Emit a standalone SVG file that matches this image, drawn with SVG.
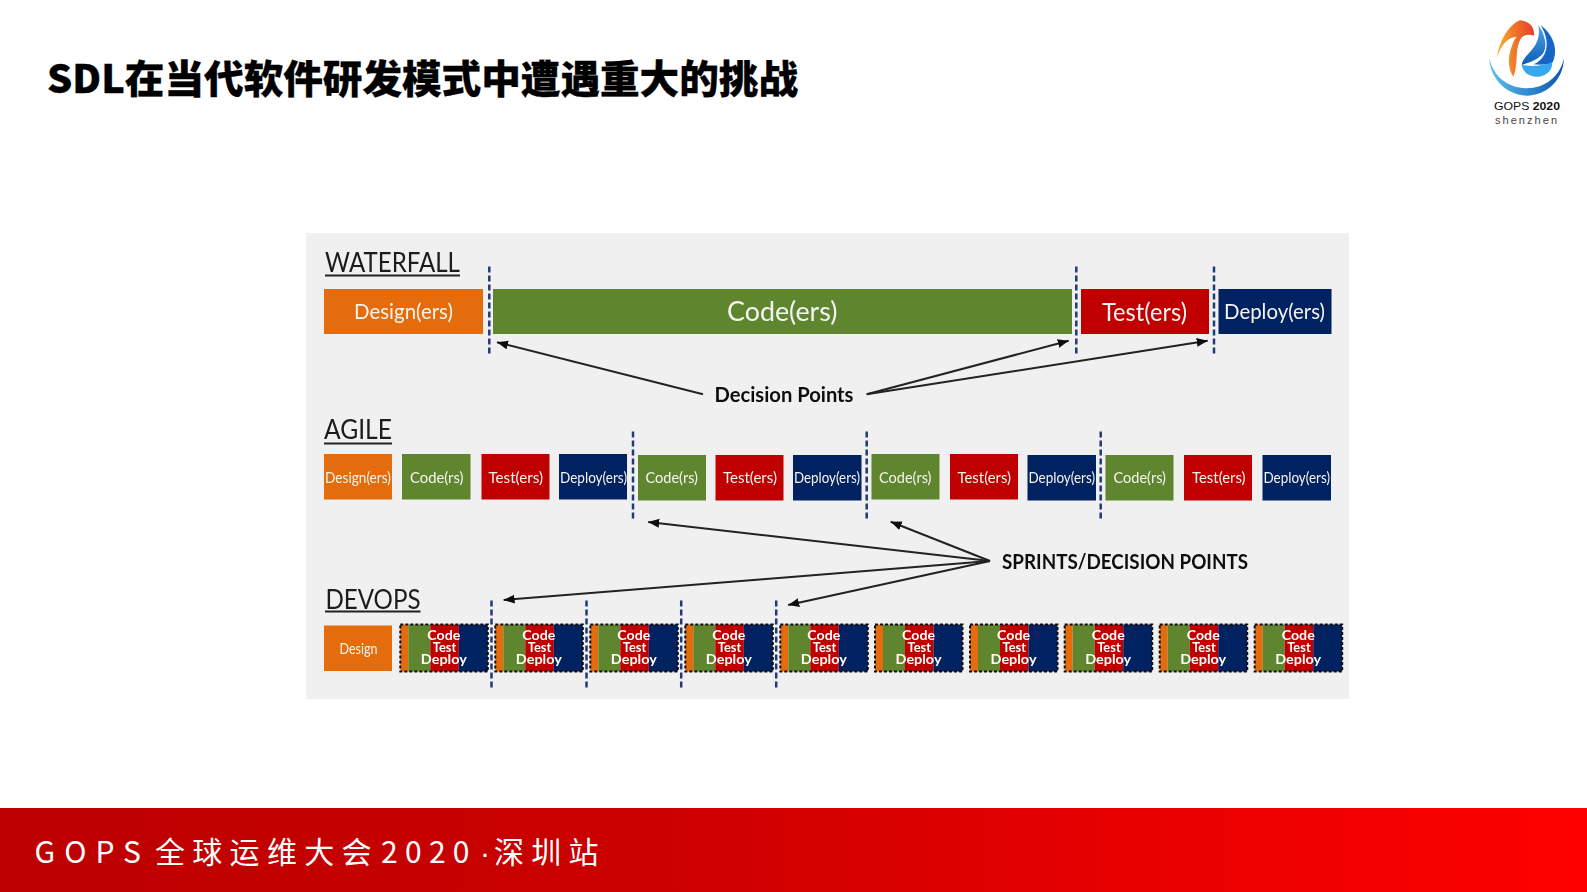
<svg xmlns="http://www.w3.org/2000/svg" width="1587" height="892" viewBox="0 0 1587 892">
<style>
.o{fill:#e46c0a}.g{fill:#5f862d}.r{fill:#c00000}.n{fill:#002060}
.t{font-family:"Lato","Liberation Sans",sans-serif;fill:#f4f4f0}
.h{font-family:"Lato","Liberation Sans",sans-serif;fill:#1a1a1a;font-size:27px}
.b{font-family:"Lato","Liberation Sans",sans-serif;fill:#111;font-weight:700;font-size:20px}
.s{font-size:15px}
.d{font-family:"Lato","Liberation Sans",sans-serif;fill:#fff;font-weight:700;font-size:14px}
.u{stroke:#222;stroke-width:2;fill:none}
.v{stroke:#1f3a78;stroke-width:2.5;stroke-dasharray:6 3;fill:none}
.a{stroke:#222;stroke-width:2;fill:none;marker-end:url(#ah)}
.x{fill:none;stroke:#111;stroke-width:2;stroke-dasharray:3 2}
.f{font-family:"Noto Sans CJK SC","Liberation Sans",sans-serif;font-size:30px;letter-spacing:7.3px;fill:#fff}
</style>
<defs>
<marker id="ah" markerUnits="userSpaceOnUse" markerWidth="12" markerHeight="10" refX="11" refY="4.5" orient="auto"><path d="M0,0L11,4.500L0,9Z" fill="#111"/></marker>
<linearGradient id="bar" x1="0" x2="1" y1="0" y2="0"><stop offset="0" stop-color="#bc0000"/><stop offset="0.4" stop-color="#cb0000"/><stop offset="0.7" stop-color="#e60000"/><stop offset="1" stop-color="#ff0000"/></linearGradient>
<linearGradient id="ring" x1="0" x2="1" y1="0" y2="0"><stop offset="0" stop-color="#5bc0f2"/><stop offset="1" stop-color="#0b56b0"/></linearGradient>
<linearGradient id="flame" x1="0" x2="1" y1="0.5" y2="0.4"><stop offset="0" stop-color="#f9b233"/><stop offset="0.45" stop-color="#f07a28"/><stop offset="1" stop-color="#e8412a"/></linearGradient>
<linearGradient id="wave" x1="0" x2="0" y1="0" y2="1"><stop offset="0" stop-color="#4aa8e8"/><stop offset="1" stop-color="#0c5cb8"/></linearGradient>
<filter id="soft" x="-2%" y="-2%" width="104%" height="104%"><feGaussianBlur stdDeviation="0.55"/></filter>
</defs>
<rect width="1587" height="892" fill="#fff"/>
<text id="title" x="47" y="92.500" textLength="751" lengthAdjust="spacingAndGlyphs" font-family="'Noto Sans CJK SC','Liberation Sans',sans-serif" font-weight="900" font-size="39" fill="#000" stroke="#000" stroke-width="0.3">SDL在当代软件研发模式中遭遇重大的挑战</text>
<g id="logo">
<g transform="translate(1470,5) scale(0.3333)">
<path d="M58,160C60,225 115,272 170,272C230,272 280,225 282,160C270,215 225,250 170,250C115,250 70,215 58,160Z" fill="url(#ring)"/>
<path d="M82,158C85,110 118,58 150,46C175,48 195,65 192,92C170,85 155,92 148,110C135,140 145,180 130,215C115,195 112,160 125,125C130,110 135,100 140,95C115,95 92,120 82,158Z" fill="url(#flame)"/>
<path d="M212,60C245,85 268,130 248,172C240,180 215,180 190,178C225,165 248,120 212,60Z" fill="#1467c6"/>
<path d="M205,60C222,85 232,115 222,140C212,160 185,170 155,180C160,145 218,130 205,60Z" fill="url(#wave)"/>
<path d="M155,180C185,185 215,184 246,172C250,194 228,215 205,215C180,215 160,205 155,180Z" fill="#35a8f0"/>
</g>
<text x="1494" y="109.500" textLength="66" lengthAdjust="spacingAndGlyphs" font-family="'Liberation Sans',sans-serif" font-size="11" fill="#111"><tspan>GOPS </tspan><tspan font-weight="700">2020</tspan></text>
<text x="1495" y="124" textLength="62" font-family="'Liberation Sans',sans-serif" font-size="11" fill="#444">shenzhen</text>
</g>
<rect id="panel" x="306" y="233" width="1043" height="466" fill="#f0f0f0"/>
<g id="picture" filter="url(#soft)">
<g id="labels">
<text class="h" x="325" y="272" textLength="135" lengthAdjust="spacingAndGlyphs">WATERFALL</text><path class="u" d="M325,275.500H460"/>
<text class="h" x="324" y="439" textLength="68" lengthAdjust="spacingAndGlyphs">AGILE</text><path class="u" d="M324,443.500H392"/>
<text class="h" x="325.500" y="608.500" textLength="95" lengthAdjust="spacingAndGlyphs">DEVOPS</text><path class="u" d="M325,611.500H420.500"/>
<text class="b" x="714.500" y="401.500" textLength="139" lengthAdjust="spacingAndGlyphs">Decision Points</text>
<text class="b" x="1002" y="569" textLength="246" lengthAdjust="spacingAndGlyphs">SPRINTS/DECISION POINTS</text>
</g>
<g id="wf-design"><rect class="o" x="324" y="289" width="159" height="45"/><text class="t" x="354" y="319" font-size="21" textLength="99" lengthAdjust="spacingAndGlyphs">Design(ers)</text></g>
<g id="wf-code"><rect class="g" x="493" y="289" width="579" height="45"/><text class="t" x="727" y="321" font-size="27" textLength="110.500" lengthAdjust="spacingAndGlyphs">Code(ers)</text></g>
<g id="wf-test"><rect class="r" x="1081" y="289" width="128" height="45"/><text class="t" x="1102" y="320.500" font-size="25" textLength="85" lengthAdjust="spacingAndGlyphs">Test(ers)</text></g>
<g id="wf-deploy"><rect class="n" x="1218.500" y="289" width="113" height="45"/><text class="t" x="1224" y="319" font-size="21" textLength="101" lengthAdjust="spacingAndGlyphs">Deploy(ers)</text></g>
<g id="ag-design"><rect class="o" x="324" y="454" width="68" height="45.500"/><text class="t s" x="325" y="482.500" textLength="66" lengthAdjust="spacingAndGlyphs">Design(ers)</text></g>
<g id="ag-code1"><rect class="g" x="402" y="454" width="68.500" height="45.500"/><text class="t s" x="410" y="482.500" textLength="53.500" lengthAdjust="spacingAndGlyphs">Code(rs)</text></g>
<g id="ag-test1"><rect class="r" x="481.500" y="454" width="68" height="45.500"/><text class="t s" x="488.500" y="482.500" textLength="54.500" lengthAdjust="spacingAndGlyphs">Test(ers)</text></g>
<g id="ag-deploy1"><rect class="n" x="559" y="454" width="68" height="45.500"/><text class="t s" x="560" y="482.500" textLength="67" lengthAdjust="spacingAndGlyphs">Deploy(ers)</text></g>
<g id="ag-code2"><rect class="g" x="638" y="455" width="68" height="45.500"/><text class="t s" x="645.500" y="482.500" textLength="52.500" lengthAdjust="spacingAndGlyphs">Code(rs)</text></g>
<g id="ag-test2"><rect class="r" x="715.500" y="455" width="68" height="45.500"/><text class="t s" x="723" y="482.500" textLength="54" lengthAdjust="spacingAndGlyphs">Test(ers)</text></g>
<g id="ag-deploy2"><rect class="n" x="793" y="455" width="68.500" height="45.500"/><text class="t s" x="794" y="482.500" textLength="66" lengthAdjust="spacingAndGlyphs">Deploy(ers)</text></g>
<g id="ag-code3"><rect class="g" x="871.500" y="454" width="68" height="45.500"/><text class="t s" x="879" y="482.500" textLength="52.500" lengthAdjust="spacingAndGlyphs">Code(rs)</text></g>
<g id="ag-test3"><rect class="r" x="950" y="454" width="68" height="45.500"/><text class="t s" x="957.500" y="482.500" textLength="53.500" lengthAdjust="spacingAndGlyphs">Test(ers)</text></g>
<g id="ag-deploy3"><rect class="n" x="1027.500" y="455" width="68.500" height="45.500"/><text class="t s" x="1028.500" y="482.500" textLength="66.500" lengthAdjust="spacingAndGlyphs">Deploy(ers)</text></g>
<g id="ag-code4"><rect class="g" x="1105.500" y="455" width="68" height="45.500"/><text class="t s" x="1113.500" y="482.500" textLength="52.500" lengthAdjust="spacingAndGlyphs">Code(rs)</text></g>
<g id="ag-test4"><rect class="r" x="1184" y="455" width="68" height="45.500"/><text class="t s" x="1192" y="482.500" textLength="53.500" lengthAdjust="spacingAndGlyphs">Test(ers)</text></g>
<g id="ag-deploy4"><rect class="n" x="1262.500" y="455" width="68.500" height="45.500"/><text class="t s" x="1263.500" y="482.500" textLength="66.500" lengthAdjust="spacingAndGlyphs">Deploy(ers)</text></g>
<g id="dv-design"><rect class="o" x="324" y="625.500" width="68" height="45.500"/><text class="t s" x="339.500" y="653.500" textLength="38" lengthAdjust="spacingAndGlyphs">Design</text></g>
<g id="dv-1" transform="translate(400.300,624.500)"><rect class="o" width="8" height="47"/><rect class="g" x="8" width="22" height="47"/><rect class="r" x="30" width="28.500" height="47"/><rect class="n" x="58.500" width="29" height="47"/><rect class="x" width="87.500" height="47"/><text class="d" x="27" y="15.500" textLength="33" lengthAdjust="spacingAndGlyphs">Code</text><text class="d" x="32.500" y="27.500" textLength="23.500" lengthAdjust="spacingAndGlyphs">Test</text><text class="d" x="20.500" y="39.500" textLength="46" lengthAdjust="spacingAndGlyphs">Deploy</text></g>
<g id="dv-2" transform="translate(495.300,624.500)"><rect class="o" width="8" height="47"/><rect class="g" x="8" width="22" height="47"/><rect class="r" x="30" width="28.500" height="47"/><rect class="n" x="58.500" width="29" height="47"/><rect class="x" width="87.500" height="47"/><text class="d" x="27" y="15.500" textLength="33" lengthAdjust="spacingAndGlyphs">Code</text><text class="d" x="32.500" y="27.500" textLength="23.500" lengthAdjust="spacingAndGlyphs">Test</text><text class="d" x="20.500" y="39.500" textLength="46" lengthAdjust="spacingAndGlyphs">Deploy</text></g>
<g id="dv-3" transform="translate(590.300,624.500)"><rect class="o" width="8" height="47"/><rect class="g" x="8" width="22" height="47"/><rect class="r" x="30" width="28.500" height="47"/><rect class="n" x="58.500" width="29" height="47"/><rect class="x" width="87.500" height="47"/><text class="d" x="27" y="15.500" textLength="33" lengthAdjust="spacingAndGlyphs">Code</text><text class="d" x="32.500" y="27.500" textLength="23.500" lengthAdjust="spacingAndGlyphs">Test</text><text class="d" x="20.500" y="39.500" textLength="46" lengthAdjust="spacingAndGlyphs">Deploy</text></g>
<g id="dv-4" transform="translate(685.300,624.500)"><rect class="o" width="8" height="47"/><rect class="g" x="8" width="22" height="47"/><rect class="r" x="30" width="28.500" height="47"/><rect class="n" x="58.500" width="29" height="47"/><rect class="x" width="87.500" height="47"/><text class="d" x="27" y="15.500" textLength="33" lengthAdjust="spacingAndGlyphs">Code</text><text class="d" x="32.500" y="27.500" textLength="23.500" lengthAdjust="spacingAndGlyphs">Test</text><text class="d" x="20.500" y="39.500" textLength="46" lengthAdjust="spacingAndGlyphs">Deploy</text></g>
<g id="dv-5" transform="translate(780.300,624.500)"><rect class="o" width="8" height="47"/><rect class="g" x="8" width="22" height="47"/><rect class="r" x="30" width="28.500" height="47"/><rect class="n" x="58.500" width="29" height="47"/><rect class="x" width="87.500" height="47"/><text class="d" x="27" y="15.500" textLength="33" lengthAdjust="spacingAndGlyphs">Code</text><text class="d" x="32.500" y="27.500" textLength="23.500" lengthAdjust="spacingAndGlyphs">Test</text><text class="d" x="20.500" y="39.500" textLength="46" lengthAdjust="spacingAndGlyphs">Deploy</text></g>
<g id="dv-6" transform="translate(875,624.500)"><rect class="o" width="8" height="47"/><rect class="g" x="8" width="22" height="47"/><rect class="r" x="30" width="28.500" height="47"/><rect class="n" x="58.500" width="29" height="47"/><rect class="x" width="87.500" height="47"/><text class="d" x="27" y="15.500" textLength="33" lengthAdjust="spacingAndGlyphs">Code</text><text class="d" x="32.500" y="27.500" textLength="23.500" lengthAdjust="spacingAndGlyphs">Test</text><text class="d" x="20.500" y="39.500" textLength="46" lengthAdjust="spacingAndGlyphs">Deploy</text></g>
<g id="dv-7" transform="translate(970,624.500)"><rect class="o" width="8" height="47"/><rect class="g" x="8" width="22" height="47"/><rect class="r" x="30" width="28.500" height="47"/><rect class="n" x="58.500" width="29" height="47"/><rect class="x" width="87.500" height="47"/><text class="d" x="27" y="15.500" textLength="33" lengthAdjust="spacingAndGlyphs">Code</text><text class="d" x="32.500" y="27.500" textLength="23.500" lengthAdjust="spacingAndGlyphs">Test</text><text class="d" x="20.500" y="39.500" textLength="46" lengthAdjust="spacingAndGlyphs">Deploy</text></g>
<g id="dv-8" transform="translate(1064.700,624.500)"><rect class="o" width="8" height="47"/><rect class="g" x="8" width="22" height="47"/><rect class="r" x="30" width="28.500" height="47"/><rect class="n" x="58.500" width="29" height="47"/><rect class="x" width="87.500" height="47"/><text class="d" x="27" y="15.500" textLength="33" lengthAdjust="spacingAndGlyphs">Code</text><text class="d" x="32.500" y="27.500" textLength="23.500" lengthAdjust="spacingAndGlyphs">Test</text><text class="d" x="20.500" y="39.500" textLength="46" lengthAdjust="spacingAndGlyphs">Deploy</text></g>
<g id="dv-9" transform="translate(1159.700,624.500)"><rect class="o" width="8" height="47"/><rect class="g" x="8" width="22" height="47"/><rect class="r" x="30" width="28.500" height="47"/><rect class="n" x="58.500" width="29" height="47"/><rect class="x" width="87.500" height="47"/><text class="d" x="27" y="15.500" textLength="33" lengthAdjust="spacingAndGlyphs">Code</text><text class="d" x="32.500" y="27.500" textLength="23.500" lengthAdjust="spacingAndGlyphs">Test</text><text class="d" x="20.500" y="39.500" textLength="46" lengthAdjust="spacingAndGlyphs">Deploy</text></g>
<g id="dv-10" transform="translate(1254.700,624.500)"><rect class="o" width="8" height="47"/><rect class="g" x="8" width="22" height="47"/><rect class="r" x="30" width="28.500" height="47"/><rect class="n" x="58.500" width="29" height="47"/><rect class="x" width="87.500" height="47"/><text class="d" x="27" y="15.500" textLength="33" lengthAdjust="spacingAndGlyphs">Code</text><text class="d" x="32.500" y="27.500" textLength="23.500" lengthAdjust="spacingAndGlyphs">Test</text><text class="d" x="20.500" y="39.500" textLength="46" lengthAdjust="spacingAndGlyphs">Deploy</text></g>
<g id="connectors">
<path class="v" d="M489.300,266.500V355.500M1076.300,266.500V355.500M1214,266.500V355.500"/>
<path class="v" d="M633,431.500V521M866.700,431.500V521M1100.700,431.500V521"/>
<path class="v" d="M491.500,600.500V690M586.500,600.500V690M681.200,600.500V690M776.200,600.500V690"/>
<path class="a" d="M703,394.300L497,342.300"/>
<path class="a" d="M866.700,394.300L1068.700,340.700"/>
<path class="a" d="M866.700,394.300L1207.700,340.700"/>
<path class="a" d="M990,561L648.200,522"/>
<path class="a" d="M990,561L890.700,521.700"/>
<path class="a" d="M990,561L503.600,600"/>
<path class="a" d="M990,561L788.200,605"/>
</g>
</g>
<g id="footer">
<rect x="0" y="808" width="1587" height="84" fill="url(#bar)"/>
<text class="f" y="862.500"><tspan x="34.500" letter-spacing="9">GOPS</tspan><tspan x="155">全球运维大会</tspan><tspan x="381">2020</tspan><tspan x="480" font-family="'Liberation Sans',sans-serif">·</tspan><tspan x="494">深圳站</tspan></text>
</g>
</svg>
